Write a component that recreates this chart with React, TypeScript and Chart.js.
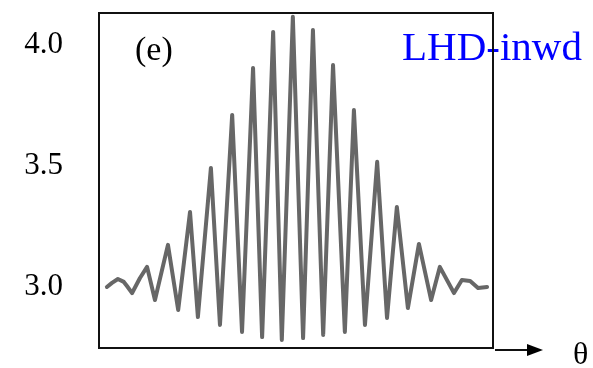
import React, { useEffect, useRef } from "react";
import { Chart, registerables } from "chart.js";

Chart.register(...registerables);

// θ positions (arbitrary units, 0..100 across the panel)
const THETA = [
  2.0, 3.3, 4.8, 6.3, 7.1, 8.4, 10.4, 12.2, 14.2, 17.5, 20.1, 23.1, 25.1, 28.4,
  30.7, 33.8, 36.3, 39.1, 41.4, 44.2, 46.4, 49.2, 51.8, 54.3, 56.9, 59.4, 62.4,
  64.7, 67.5, 70.6, 73.1, 75.6, 78.4, 81.2, 84.3, 86.5, 90.1, 92.1, 94.2, 96.2,
  98.5,
];

// signal values
const SIGNAL = [
  3.0, 3.017, 3.033, 3.021, 3.004, 2.975, 3.037, 3.083, 2.946, 3.174, 2.905,
  3.31, 2.876, 3.492, 2.843, 3.711, 2.814, 3.905, 2.793, 4.054, 2.781, 4.116,
  2.789, 4.062, 2.802, 3.917, 2.814, 3.731, 2.843, 3.517, 2.872, 3.331, 2.913,
  3.178, 2.946, 3.083, 2.975, 3.029, 3.025, 2.996, 3.0,
];

const Y_TICKS = [3.0, 3.5, 4.0];
const Y_MIN = 2.748;
const Y_MAX = 4.132;
const X_MIN = 0;
const X_MAX = 100;

const PANEL_LABEL = "(e)";
const SERIES_LABEL = "LHD-inwd";
const X_LABEL = "θ";

const SERIF = "'Liberation Serif', 'Times New Roman', serif";

export default function App() {
  const ref = useRef<HTMLCanvasElement>(null);

  useEffect(() => {
    document.body.style.margin = "0";
    const overlay = {
      id: "overlay",
      afterDraw(chart: any) {
        const { ctx, chartArea: a } = chart;
        ctx.save();
        ctx.textBaseline = "alphabetic";
        ctx.textAlign = "left";
        ctx.fillStyle = "#000";
        ctx.font = `34px ${SERIF}`;
        ctx.fillText(PANEL_LABEL, a.left + 36, a.top + 47);
        ctx.fillStyle = "#0000ff";
        ctx.font = `41px ${SERIF}`;
        ctx.fillText(SERIES_LABEL, a.left + 303, a.top + 47);

        // frame
        ctx.strokeStyle = "#111";
        ctx.lineWidth = 2;
        ctx.strokeRect(a.left, a.top, a.right - a.left, a.bottom - a.top);

        // arrow
        const y = a.bottom + 2;
        ctx.beginPath();
        ctx.moveTo(a.right + 2, y);
        ctx.lineTo(a.right + 37, y);
        ctx.stroke();
        ctx.fillStyle = "#000";
        ctx.beginPath();
        ctx.moveTo(a.right + 50, y);
        ctx.lineTo(a.right + 34, y - 6);
        ctx.lineTo(a.right + 34, y + 6);
        ctx.closePath();
        ctx.fill();

        ctx.font = `32px ${SERIF}`;
        ctx.fillText(X_LABEL, a.right + 80, a.bottom + 16);
        ctx.restore();
      },
    };

    const chart = new Chart(ref.current!, {
      type: "line",
      data: {
        datasets: [
          {
            data: THETA.map((x, i) => ({ x, y: SIGNAL[i] })),
            borderColor: "#676767",
            borderWidth: 4,
            pointRadius: 0,
            tension: 0,
            borderJoinStyle: "round",
            borderCapStyle: "round",
          },
        ],
      },
      options: {
        animation: false,
        responsive: false,
        layout: { padding: { top: 13, right: 100, bottom: 20, left: 0 } },
        plugins: { legend: { display: false }, tooltip: { enabled: false } },
        scales: {
          x: { type: "linear", display: false, min: X_MIN, max: X_MAX },
          y: {
            min: Y_MIN,
            max: Y_MAX,
            afterFit(s: any) {
              s.width = 99;
              s.paddingTop = 0;
              s.paddingBottom = 0;
            },
            afterBuildTicks(s: any) {
              s.ticks = Y_TICKS.map((v) => ({ value: v }));
            },
            grid: { display: false, drawTicks: false },
            border: { display: false },
            ticks: {
              padding: 36,
              color: "#000",
              font: { family: SERIF, size: 31 },
              callback: (v: any) => Number(v).toFixed(1),
            },
          },
        },
      },
      plugins: [overlay],
    } as any);
    return () => chart.destroy();
  }, []);

  return (
    <div style={{ width: 593, height: 368 }}>
      <canvas ref={ref} width={593} height={368} style={{ display: "block" }} />
    </div>
  );
}
